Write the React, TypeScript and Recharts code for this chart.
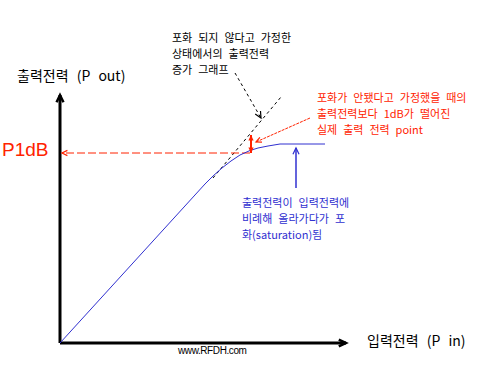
import React from "react";
import { ComposedChart, Line, XAxis, YAxis } from "recharts";

// coordinates in "power" units measured from the axis origin
const axisPoutLine = [{ x: 0, y: 0 }, { x: 0, y: 248 }];
const axisPinLine = [{ x: 0, y: 0 }, { x: 286, y: 0 }];
const realPout = [
  { x: 0, y: 0 }, { x: 145, y: 159 }, { x: 153, y: 167 }, { x: 162, y: 175 },
  { x: 171, y: 182 }, { x: 180, y: 188 }, { x: 190, y: 192.5 }, { x: 198, y: 195 },
  { x: 208, y: 197 }, { x: 220, y: 199 }, { x: 265, y: 199 },
];
const idealPout = [{ x: 153, y: 165 }, { x: 221, y: 246 }];
const idealLeader = [{ x: 175, y: 270 }, { x: 201, y: 225 }];
const p1dbLine = [{ x: 190, y: 190 }, { x: 2, y: 190 }];
const oneDbGap = [{ x: 191, y: 208 }, { x: 191, y: 190 }];
const p1dbLeader = [{ x: 250, y: 225 }, { x: 196, y: 201 }];
const satLeader = [{ x: 236, y: 155 }, { x: 236, y: 195 }];

const RED = "#ff2200";
const BLUE = "#3030d0";

type ArrowOpts = { ends: "end" | "both"; filled?: boolean; size?: number; color: string; width?: number };

const head = (x: number, y: number, ang: number, o: ArrowOpts, key: string) => {
  const s = o.size ?? 6;
  const a1 = ang + Math.PI - 0.45;
  const a2 = ang + Math.PI + 0.45;
  const p1 = [x + s * Math.cos(a1), y + s * Math.sin(a1)];
  const p2 = [x + s * Math.cos(a2), y + s * Math.sin(a2)];
  if (o.filled) {
    return <polygon key={key} points={`${x},${y} ${p1[0]},${p1[1]} ${p2[0]},${p2[1]}`} fill={o.color} />;
  }
  return (
    <polyline key={key} points={`${p1[0]},${p1[1]} ${x},${y} ${p2[0]},${p2[1]}`}
      fill="none" stroke={o.color} strokeWidth={o.width ?? 1} />
  );
};

const arrowDot = (o: ArrowOpts) => (props: any) => {
  const { cx, cy, index, points } = props;
  const k = `a-${index}`;
  if (!points || points.length < 2) return <g key={k} />;
  const last = points.length - 1;
  if (index === last) {
    const p = points[last - 1];
    return head(cx, cy, Math.atan2(cy - p.y, cx - p.x), o, k);
  }
  if (index === 0 && o.ends === "both") {
    const p = points[1];
    return head(cx, cy, Math.atan2(cy - p.y, cx - p.x), o, k);
  }
  return <g key={k} />;
};

const txt: React.CSSProperties = {
  position: "absolute",
  fontFamily: "'Noto Sans CJK KR', sans-serif",
  fontSize: 11,
  lineHeight: "16px",
  wordSpacing: 3.5,
  whiteSpace: "nowrap",
  margin: 0,
};

export default function App() {
  return (
    <div style={{ position: "absolute", left: 0, top: 0, width: 496, height: 369, background: "#fff" }}>
      <ComposedChart width={496} height={369} margin={{ top: 0, right: 0, bottom: 0, left: 0 }}>
        <XAxis type="number" dataKey="x" domain={[-60, 436]} allowDataOverflow hide />
        <YAxis type="number" dataKey="y" domain={[-26, 343]} allowDataOverflow hide />
        <Line data={axisPoutLine} dataKey="y" stroke="#000" strokeWidth={3} isAnimationActive={false}
          dot={arrowDot({ ends: "end", color: "#000", width: 2.5, size: 8 })} activeDot={false} />
        <Line data={axisPinLine} dataKey="y" stroke="#000" strokeWidth={3} isAnimationActive={false}
          dot={arrowDot({ ends: "end", color: "#000", width: 2.5, size: 8 })} activeDot={false} />
        <Line data={idealPout} dataKey="y" stroke="#000" strokeWidth={1} strokeDasharray="3 3"
          isAnimationActive={false} dot={false} activeDot={false} />
        <Line data={idealLeader} dataKey="y" stroke="#000" strokeWidth={1} strokeDasharray="3 3"
          isAnimationActive={false} dot={arrowDot({ ends: "end", color: "#000", width: 1.2, size: 7 })} activeDot={false} />
        <Line data={p1dbLine} dataKey="y" stroke={RED} strokeWidth={1} strokeDasharray="8 3"
          isAnimationActive={false} dot={arrowDot({ ends: "end", color: RED, width: 1.2, size: 6 })} activeDot={false} />
        <Line data={realPout} dataKey="y" type="linear" stroke={BLUE} strokeWidth={1}
          isAnimationActive={false} dot={false} activeDot={false} />
        <Line data={oneDbGap} dataKey="y" stroke={RED} strokeWidth={2}
          isAnimationActive={false} dot={arrowDot({ ends: "both", filled: true, color: RED, size: 6 })} activeDot={false} />
        <Line data={p1dbLeader} dataKey="y" stroke={RED} strokeWidth={1} strokeDasharray="3 1"
          isAnimationActive={false} dot={arrowDot({ ends: "end", color: RED, width: 1.2, size: 6 })} activeDot={false} />
        <Line data={satLeader} dataKey="y" stroke={BLUE} strokeWidth={1.5}
          isAnimationActive={false} dot={arrowDot({ ends: "end", color: BLUE, width: 1.2, size: 7 })} activeDot={false} />
      </ComposedChart>

      <div style={{ ...txt, left: 172, top: 29, color: "#000" }}>
        포화 되지 않다고 가정한<br />상태에서의 출력전력<br />증가 그래프
      </div>
      <div style={{ ...txt, left: 17, top: 66, fontSize: 14, lineHeight: "18px", wordSpacing: 5, color: "#000" }}>
        출력전력 (P out)
      </div>
      <div style={{ ...txt, left: 2, top: 139, fontSize: 19, lineHeight: "22px", wordSpacing: 0, color: RED, fontFamily: "'Liberation Sans', sans-serif" }}>
        P1dB
      </div>
      <div style={{ ...txt, left: 317, top: 89, color: RED }}>
        포화가 안됐다고 가정했을 때의<br />출력전력보다 1dB가 떨어진<br />실제 출력 전력 point
      </div>
      <div style={{ ...txt, left: 242, top: 194, color: BLUE }}>
        출력전력이 입력전력에<br />비례해 올라가다가 포<br />화(saturation)됨
      </div>
      <div style={{ ...txt, left: 367, top: 331, fontSize: 14, lineHeight: "18px", wordSpacing: 5, color: "#000" }}>
        입력전력 (P in)
      </div>
      <div style={{ ...txt, left: 178, top: 345, fontSize: 10, lineHeight: "12px", wordSpacing: 0, color: "#000", fontFamily: "'Liberation Sans', sans-serif", letterSpacing: -0.4 }}>
        www.RFDH.com
      </div>
    </div>
  );
}
